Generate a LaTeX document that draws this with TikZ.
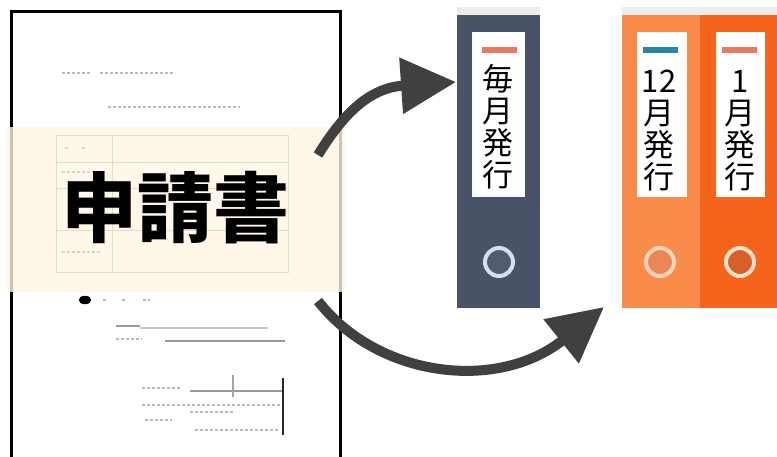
\documentclass[tikz,border=0pt]{standalone}
\usepackage{fontspec}
\newfontfamily\cjk{Noto Sans CJK JP}
\usetikzlibrary{arrows.meta}
\definecolor{bandfill}{RGB}{255,245,225}
\definecolor{arrowgray}{RGB}{64,64,64}
\definecolor{slate}{RGB}{72,83,104}
\definecolor{lightorange}{RGB}{250,140,75}
\definecolor{darkorange}{RGB}{244,100,28}
\definecolor{salmon}{RGB}{232,120,95}
\definecolor{teal}{RGB}{40,135,160}
\definecolor{tablegray}{RGB}{228,218,198}
\definecolor{ringA}{RGB}{216,222,235}
\definecolor{ringAin}{RGB}{80,92,112}
\definecolor{ringB}{RGB}{248,212,186}
\definecolor{ringBin}{RGB}{236,135,85}
\definecolor{ringC}{RGB}{250,226,204}
\definecolor{ringCin}{RGB}{214,96,40}
\tikzset{
  docborder/.style={line width=3pt, black},
  band/.style={fill=bandfill, fill opacity=0.8, draw=none},
  tableline/.style={draw=tablegray, line width=1pt},
  doctext/.style={gray!55, line width=2pt, dash pattern=on 3pt off 2pt},
  docline/.style={gray!70, line width=1.2pt},
  bigarrow/.style={draw=arrowgray, line width=10pt,
    -{Triangle[length=55pt,width=54pt]}, arrowgray},
  topstrip/.style={fill=gray!15, draw=none},
  labelbox/.style={fill=white, draw=none},
  labeltext/.style={font=\cjk\fontsize{31pt}{32pt}\selectfont, align=center, inner sep=0pt, text=black},
  ring/.style={line width=4pt},
}
\begin{document}
\begin{tikzpicture}[x=1pt, y=-1pt]
\useasboundingbox (0,0) rectangle (777,456);
\fill[white] (0,0) rectangle (777,456);

% ---------- document page ----------
\draw[docborder] (11,460) -- (11,11) -- (340,11) -- (340,460);
\draw[doctext] (62,73) -- (90,73);
\draw[doctext] (100,73) -- (175,73);
\draw[doctext] (108,107) -- (240,107);

\draw[fill=black] (85,300) ellipse (6pt and 4pt);
\draw[doctext] (103,300) -- (108,300);
\draw[doctext] (122,300) -- (126,300);
\draw[doctext] (143,300) -- (150,300);
\draw[gray!80, line width=2pt] (116,326) -- (140,326);
\draw[docline, gray!45] (140,328) -- (268,328);
\draw[doctext] (116,339) -- (142,339);
\draw[docline, gray!80, line width=1.6pt] (165,341) -- (285,341);

\draw[doctext] (142,388) -- (180,388);
\draw[gray!80, line width=2pt] (190,391) -- (283,391);
\draw[docline] (233,375) -- (233,397);
\draw[black!85, line width=1.5pt] (283,378) -- (283,435);
\draw[doctext] (142,405) -- (280,405);
\draw[doctext] (190,412) -- (235,412);
\draw[doctext] (145,420) -- (172,420);
\draw[doctext] (195,430) -- (280,430);

% ---------- band ----------
\fill[band] (7,127) rectangle (345,292);
\draw[tableline] (56,135) rectangle (288,272);
\draw[tableline] (112,135) -- (112,272);
\draw[tableline] (56,162) -- (288,162);
\draw[tableline] (56,188) -- (288,188);
\draw[tableline] (56,230) -- (288,230);
\draw[doctext, gray!35] (65,148) -- (70,148);
\draw[doctext, gray!35] (82,148) -- (86,148);
\draw[doctext, gray!35] (62,172) -- (100,172);
\draw[doctext, gray!35] (62,252) -- (100,252);

\node[font=\cjk\bfseries\fontsize{76pt}{76pt}\selectfont, inner sep=0pt] (title) at (175,208) {申請書};

% ---------- binders ----------
% dark binder
\fill[topstrip] (457,7) rectangle (540,15);
\fill[slate] (457,15) rectangle (540,308);
\fill[labelbox] (472,32) rectangle (525,197);
\fill[salmon] (482,47) rectangle (517,53);
\node[labeltext] (b1) at (498,127) {毎\\月\\発\\行};
\draw[ring, draw=ringA, fill=ringAin] (499,262) circle (14pt);

% light orange binder
\fill[topstrip] (622,7) rectangle (777,15);
\fill[lightorange] (622,15) rectangle (700,308);
\fill[labelbox] (637,32) rectangle (687,197);
\fill[teal] (643,47) rectangle (678,53);
\node[labeltext] (b2) at (659,131) {12\\月\\発\\行};
\draw[ring, draw=ringB, fill=ringBin] (660,262) circle (14pt);

% dark orange binder
\fill[darkorange] (700,15) rectangle (777,308);
\fill[labelbox] (716,32) rectangle (765,197);
\fill[salmon] (722,47) rectangle (757,53);
\node[labeltext] (b3) at (740,131) {1\\月\\発\\行};
\draw[ring, draw=ringC, fill=ringCin] (740,262) circle (14pt);

% ---------- arrows ----------
\coordinate (a1s) at (318,155);
\coordinate (a1e) at (456,82);
\coordinate (a2s) at (318,301);
\coordinate (a2e) at (604,307);
\draw[bigarrow] (a1s) .. controls (342,116) and (368,88) .. (a1e);
\draw[bigarrow] (a2s) .. controls (378,378) and (498,392) .. (a2e);
\end{tikzpicture}
\end{document}
